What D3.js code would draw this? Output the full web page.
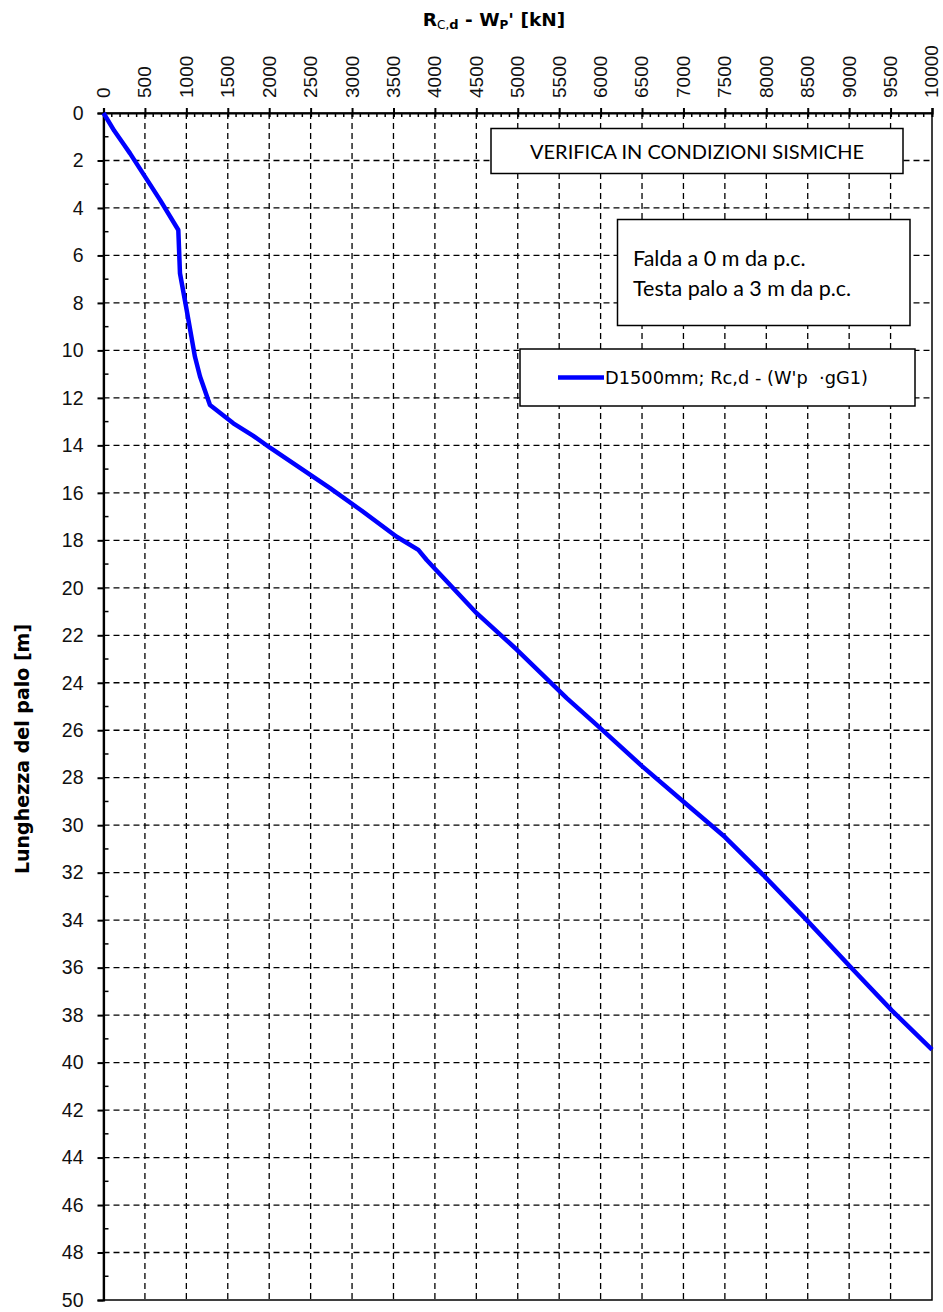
<!DOCTYPE html>
<html>
<head>
<meta charset="utf-8">
<script src="https://cdn.jsdelivr.net/npm/d3@7"></script>
<style>
  body { margin: 0; background: #fff; }
  svg { display: block; }
</style>
</head>
<body>
<figure style="margin:0"></figure>
<script>
const width = 943
const height = 1312
const margin = { top: 113, right: 11, bottom: 12, left: 103.5 }

// pile resistance vs depth
const depth = [0, 0.75, 1.35, 1.7, 3.66, 4.93, 6.75, 8.3, 10.27, 11.1, 12.3, 13.07, 13.6, 14.1, 15.8, 16.7, 17.85, 18.4, 18.83, 21.07, 22.6, 24.65, 25.9, 27.5, 29.0, 30.5, 32.1, 34.0, 35.96, 37.8, 39.45]
const resistance = [0, 130, 250, 320, 682, 903, 923, 1004, 1104, 1165, 1285, 1567, 1808, 2010, 2734, 3096, 3539, 3800, 3901, 4504, 4987, 5591, 5993, 6496, 6998, 7501, 7964, 8488, 9014, 9514, 10000]

const xTicks = d3.range(0, 10001, 500)
const xMinor = d3.range(0, 10001, 100)
const yTicks = d3.range(0, 51, 2)
const yMinor = d3.range(1, 50, 2)

const seriesName = "D1500mm; Rc,d - (W'p \u00A0\u00B7gG1)"
const noteLines = ['Falda a 0 m da p.c.', 'Testa palo a 3 m da p.c.']
const boxTitle = 'VERIFICA IN CONDIZIONI SISMICHE'

const tickFont = '"Liberation Sans", Arial, sans-serif'

const x = d3.scaleLinear().domain([0, 10000]).range([margin.left, width - margin.right])
const y = d3.scaleLinear().domain([0, 50]).range([margin.top, height - margin.bottom])

const svg = d3.select('figure').append('svg')
  .attr('width', width)
  .attr('height', height)
  .style('font-family', '"DejaVu Sans", sans-serif')

// grid
const grid = svg.append('g')
  .attr('stroke', '#000')
  .attr('stroke-width', 1.3)
  .attr('stroke-dasharray', '6,4')
grid.selectAll('line.v')
  .data(xTicks.slice(1, -1))
  .join('line')
  .attr('x1', d => x(d)).attr('x2', d => x(d))
  .attr('y1', y(0)).attr('y2', y(50))
grid.selectAll('line.h')
  .data(yTicks.slice(1, -1))
  .join('line')
  .attr('x1', x(0)).attr('x2', x(10000))
  .attr('y1', d => y(d)).attr('y2', d => y(d))

// frame
svg.append('rect')
  .attr('x', x(0)).attr('y', y(0))
  .attr('width', x(10000) - x(0)).attr('height', y(50) - y(0))
  .attr('fill', 'none').attr('stroke', '#000').attr('stroke-width', 1.5)

// top axis
const xAxis = svg.append('g')
  .attr('transform', `translate(0,${y(0)})`)
  .call(d3.axisTop(x).tickValues(xTicks).tickSize(5).tickFormat(''))
xAxis.select('.domain').attr('stroke-width', 2.2)
xAxis.selectAll('.tick line').attr('y2', -5).attr('y1', 4).attr('stroke-width', 2)
xAxis.selectAll('line.minor')
  .data(xMinor.filter(d => d % 500 !== 0))
  .join('line')
  .attr('class', 'minor')
  .attr('x1', d => x(d)).attr('x2', d => x(d))
  .attr('y1', 0).attr('y2', 4)
  .attr('stroke', '#000').attr('stroke-width', 1.5)
xAxis.selectAll('text.lbl')
  .data(xTicks)
  .join('text')
  .attr('class', 'lbl')
  .attr('transform', d => `translate(${x(d)},${-15}) rotate(-90)`)
  .attr('dy', '0.34em')
  .attr('text-anchor', 'start')
  .attr('font-family', tickFont)
  .attr('font-size', 19)
  .attr('fill', '#111')
  .text(d => d)

// left axis
const yAxis = svg.append('g')
  .attr('transform', `translate(${x(0)},0)`)
  .call(d3.axisLeft(y).tickValues(yTicks).tickSize(6).tickPadding(14))
yAxis.select('.domain').attr('stroke-width', 2.2)
yAxis.selectAll('.tick line').attr('stroke-width', 2)
yAxis.selectAll('.tick text').attr('font-size', 19.5).attr('fill', '#111')
  .attr('font-family', tickFont)
yAxis.selectAll('line.minor')
  .data(yMinor)
  .join('line')
  .attr('class', 'minor')
  .attr('x1', 0).attr('x2', 5)
  .attr('y1', d => y(d)).attr('y2', d => y(d))
  .attr('stroke', '#000').attr('stroke-width', 1.5)

// axis titles
const title = svg.append('text')
  .attr('x', 494).attr('y', 26)
  .attr('text-anchor', 'middle')
  .attr('font-size', 18.5).attr('font-weight', 'bold')
title.append('tspan').text('R')
title.append('tspan').attr('font-size', 12).attr('font-weight', 'normal').attr('dy', 3).text('C,')
title.append('tspan').attr('font-size', 13).attr('dy', 0).text('d')
title.append('tspan').attr('dy', -3).text(' - W')
title.append('tspan').attr('font-size', 12).attr('dy', 3).text('P')
title.append('tspan').attr('dy', -3).text("'  [kN]")

svg.append('text')
  .attr('transform', `translate(29,${749}) rotate(-90)`)
  .attr('text-anchor', 'middle')
  .attr('font-size', 19).attr('font-weight', 'bold')
  .text('Lunghezza del palo [m]')

// curve
const pts = depth.map((d, i) => [resistance[i], d])
svg.append('path')
  .datum(pts)
  .attr('fill', 'none')
  .attr('stroke', '#0000ff')
  .attr('stroke-width', 4.5)
  .attr('stroke-linejoin', 'round')
  .attr('d', d3.line().x(d => x(d[0])).y(d => y(d[1])))

// title box
svg.append('rect')
  .attr('x', 491).attr('y', 128.5).attr('width', 412).attr('height', 45)
  .attr('fill', '#fff').attr('stroke', '#000').attr('stroke-width', 1.5)
svg.append('text')
  .attr('x', 697).attr('y', 158.5)
  .attr('text-anchor', 'middle')
  .attr('font-family', 'Lato, sans-serif')
  .attr('font-size', 20)
  .text(boxTitle)

// note box
svg.append('rect')
  .attr('x', 617.5).attr('y', 219.5).attr('width', 292.5).attr('height', 106)
  .attr('fill', '#fff').attr('stroke', '#000').attr('stroke-width', 1.5)
svg.append('g')
  .selectAll('text')
  .data(noteLines)
  .join('text')
  .attr('x', 633).attr('y', (d, i) => 266 + i * 30)
  .attr('font-family', 'Lato, sans-serif')
  .attr('font-size', 21.5)
  .text(d => d)

// legend
svg.append('rect')
  .attr('x', 520).attr('y', 349).attr('width', 395).attr('height', 57)
  .attr('fill', '#fff').attr('stroke', '#000').attr('stroke-width', 1.5)
svg.append('line')
  .attr('x1', 558).attr('x2', 604).attr('y1', 377.5).attr('y2', 377.5)
  .attr('stroke', '#0000ff').attr('stroke-width', 4.5)
svg.append('text')
  .attr('x', 605).attr('y', 384)
  .attr('font-size', 17.8)
  .text(seriesName)
</script>
</body>
</html>
